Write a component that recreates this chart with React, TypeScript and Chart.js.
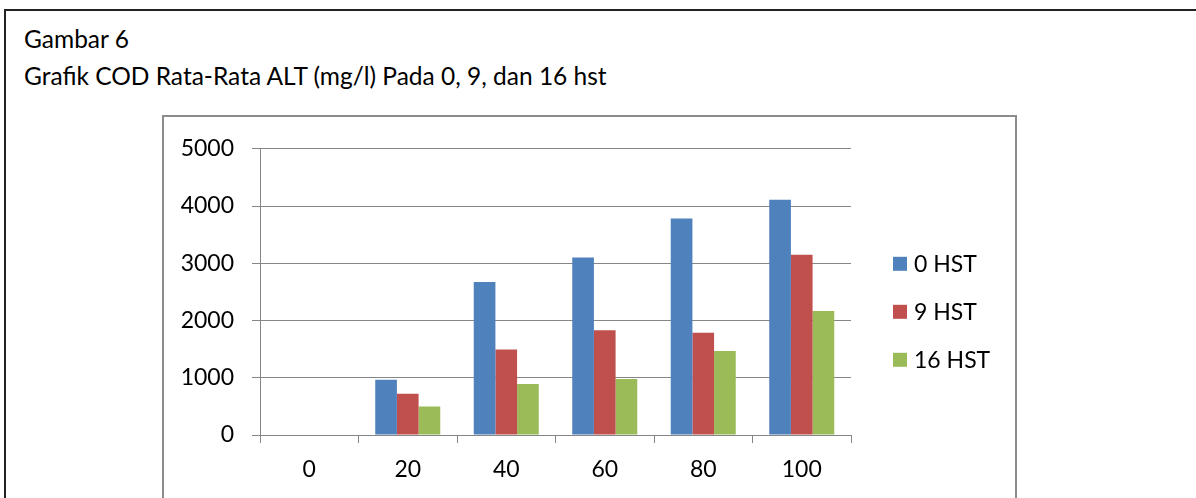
import React, { useEffect, useRef } from "react";
import { Chart, registerables } from "chart.js";

Chart.register(...registerables);

const categories = ["0", "20", "40", "60", "80", "100"];
const seriesLabels = ["0 HST", "9 HST", "16 HST"];
const hst0 = [10, 965, 2672, 3103, 3781, 4109];
const hst9 = [10, 719, 1494, 1828, 1787, 3150];
const hst16 = [10, 500, 891, 977, 1466, 2167];
const seriesColors = ["#4F81BD", "#C0504D", "#9BBB59"];
const yTicks = [0, 1000, 2000, 3000, 4000, 5000];

const FONT = "Lato, 'Open Sans', sans-serif";
const TICK_SIZE = 23;
const GRID = "#868686";

const legendPlugin = {
  id: "sideLegend",
  afterDraw(chart: any) {
    const ctx = chart.ctx;
    const area = chart.chartArea;
    ctx.save();
    ctx.font = `${TICK_SIZE}px ${FONT}`;
    ctx.textBaseline = "middle";
    ctx.textAlign = "left";
    chart.data.datasets.forEach((ds: any, i: number) => {
      const cy = area.top + 115 + i * 48;
      const x = area.right + 42;
      ctx.fillStyle = ds.backgroundColor;
      ctx.fillRect(x, cy - 7, 14, 14);
      ctx.fillStyle = "#000";
      ctx.fillText(ds.label, x + 21, cy + 1);
    });
    ctx.restore();
  },
};

export default function App() {
  const ref = useRef<HTMLCanvasElement | null>(null);

  useEffect(() => {
    if (!ref.current) return;
    const data = [hst0, hst9, hst16];
    const chart = new Chart(ref.current, {
      type: "bar",
      data: {
        labels: categories,
        datasets: seriesLabels.map((label, i) => ({
          label,
          data: data[i],
          backgroundColor: seriesColors[i],
          borderWidth: 0,
          categoryPercentage: 0.66,
          barPercentage: 1.0,
        })),
      },
      options: {
        responsive: false,
        animation: false,
        devicePixelRatio: 1,
        layout: { padding: { top: 27, right: 164, left: 0, bottom: 0 } },
        plugins: {
          legend: { display: false },
          title: { display: false },
          tooltip: { enabled: false },
        },
        scales: {
          x: {
            grid: {
              display: true,
              drawOnChartArea: false,
              drawTicks: true,
              tickLength: 8,
              color: GRID,
              lineWidth: 1,
            },
            border: { display: true, color: GRID, width: 1 },
            ticks: {
              color: "#000",
              font: { family: FONT, size: TICK_SIZE },
              padding: 13,
              maxRotation: 0,
            },
            afterFit(scale: any) {
              scale.height = 63;
            },
          },
          y: {
            min: 0,
            max: 5000,
            afterBuildTicks(scale: any) {
              scale.ticks = yTicks.map((v) => ({ value: v }));
            },
            grid: {
              display: true,
              drawOnChartArea: true,
              drawTicks: true,
              tickLength: 8,
              color: GRID,
              lineWidth: 1,
            },
            border: { display: true, color: GRID, width: 1 },
            ticks: {
              color: "#000",
              font: { family: FONT, size: TICK_SIZE },
              padding: 18,
              callback: (v: any) => String(v),
            },
            afterFit(scale: any) {
              scale.width = 96;
            },
          },
        },
      },
      plugins: [legendPlugin],
    });
    return () => chart.destroy();
  }, []);

  const textStyle: React.CSSProperties = {
    position: "absolute",
    left: 24,
    fontFamily: FONT,
    fontSize: 24.5,
    lineHeight: "25px",
    color: "#000",
    whiteSpace: "nowrap",
  };

  return (
    <div
      style={{
        position: "fixed",
        left: 0,
        top: 0,
        width: 1196,
        height: 498,
        overflow: "hidden",
        background: "#fff",
      }}
    >
      <div
        style={{
          position: "absolute",
          left: 4,
          top: 9,
          width: 1300,
          height: 700,
          border: "2px solid #222",
          boxSizing: "border-box",
        }}
      />
      <div style={{ ...textStyle, top: 26 }}>Gambar 6</div>
      <div style={{ ...textStyle, top: 63 }}>
        Grafik COD Rata-Rata ALT (mg/l) Pada 0, 9, dan 16 hst
      </div>
      <div
        style={{
          position: "absolute",
          left: 162,
          top: 115,
          width: 855,
          height: 600,
          border: "2px solid #8c8c8c",
          boxSizing: "border-box",
        }}
      />
      <canvas
        ref={ref}
        width={851}
        height={381}
        style={{ position: "absolute", left: 164, top: 117, width: 851, height: 381 }}
      />
    </div>
  );
}
